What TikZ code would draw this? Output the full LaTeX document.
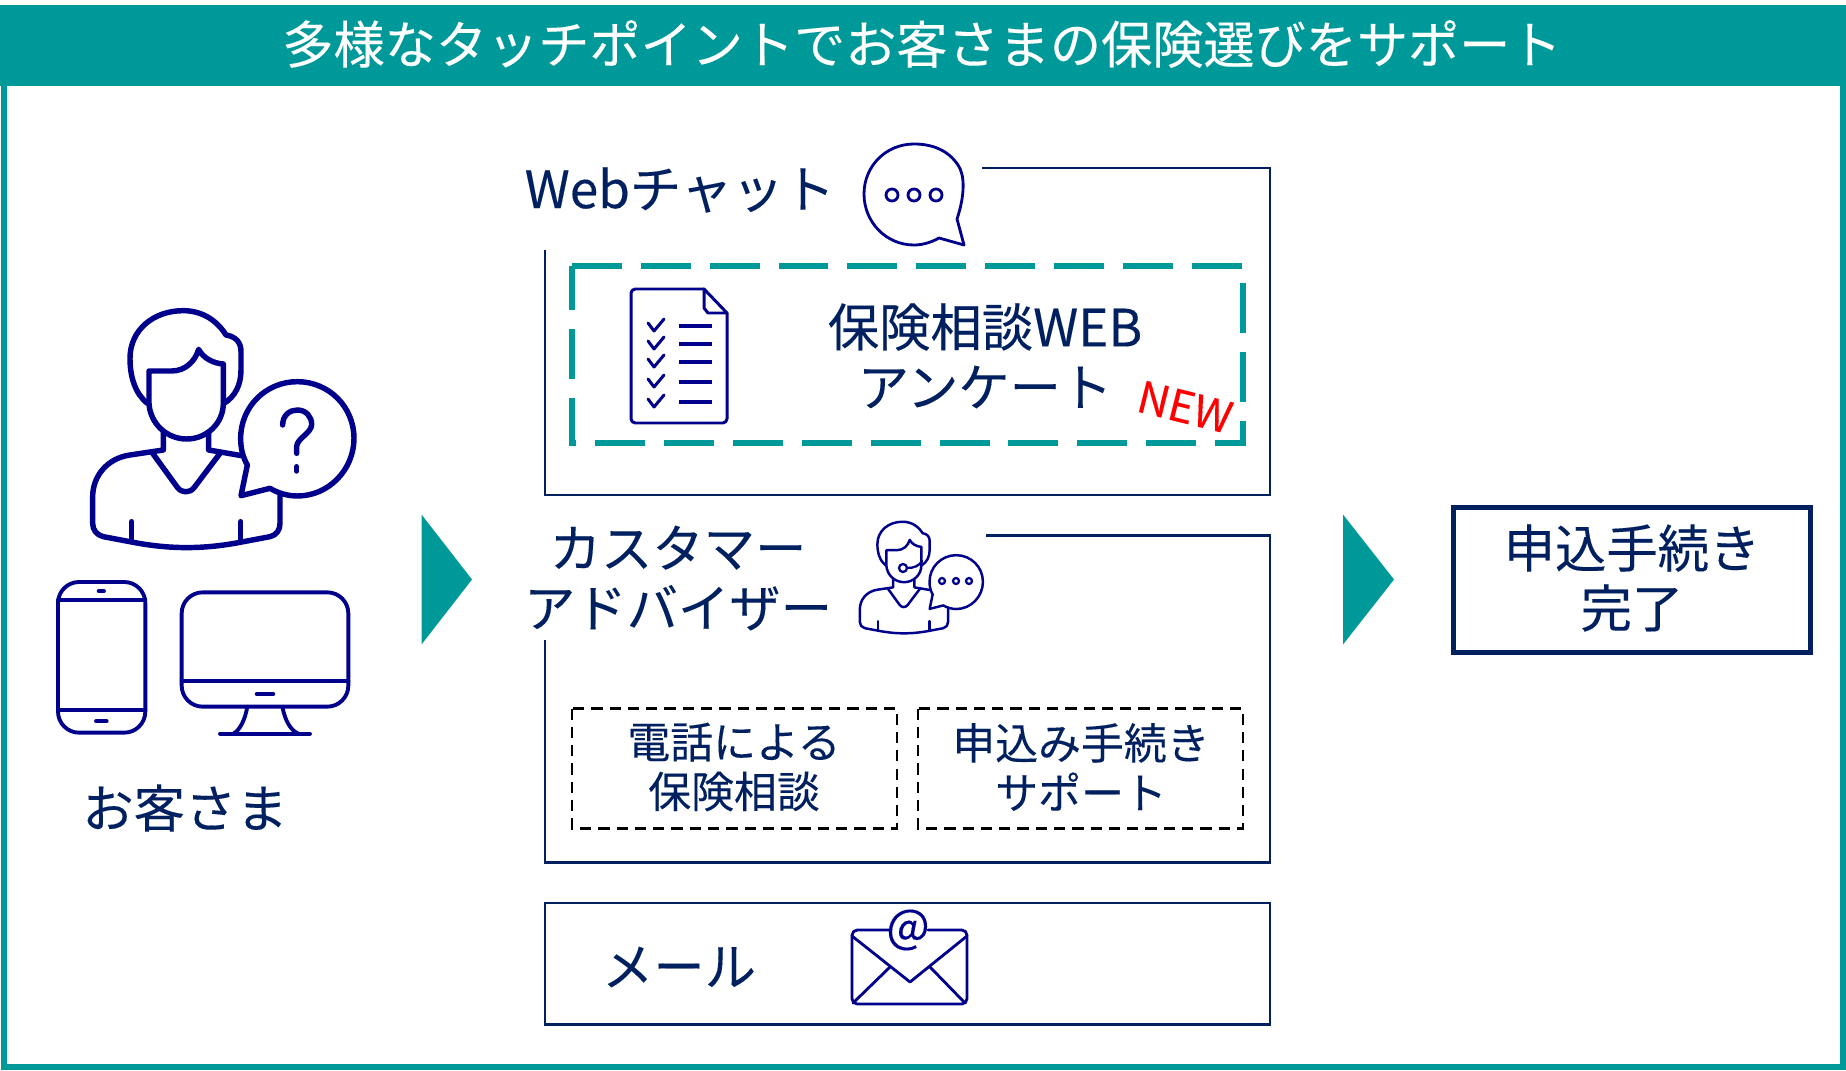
\documentclass[tikz,border=0pt]{standalone}
\usepackage{fontspec}
\setmainfont{Noto Sans CJK JP}[FakeBold=0.2]
\usepackage{tikz}
\definecolor{tealc}{HTML}{009999}
\definecolor{navyc}{HTML}{002060}
\definecolor{iconc}{HTML}{00008C}
\tikzset{
  boxline/.style = {navyc, line width=.75pt},
  bigtext/.style = {navyc, align=center, inner sep=0pt, font=\fontsize{14.6pt}{17pt}\selectfont},
  smalltext/.style = {navyc, align=center, inner sep=0pt, font=\fontsize{12.2pt}{14.1pt}\selectfont},
  icon/.style = {iconc, line cap=round, line join=round},
  blackdash/.style = {black, line width=.6pt, dash pattern=on 3.2pt off 2pt},
  tealdash/.style = {tealc, line width=1.6pt, dash pattern=on 14.2pt off 5.376pt}
}
% person with a speech bubble, in units of 1/3 px
\newcommand{\personicon}{
\draw (322,340) .. controls (285,310) and (270,260) .. (270,205)
      .. controls (270,120) and (340,62) .. (430,62)
      .. controls (485,62) and (530,90) .. (558,135)
      .. controls (590,140) and (603,160) .. (603,185) -- (603,240)
      .. controls (603,285) and (585,320) .. (552,340);
\draw (327,243) -- (327,340) .. controls (330,400) and (380,447) .. (440,447)
      .. controls (500,447) and (550,400) .. (550,340) -- (550,222)
      .. controls (520,220) and (490,205) .. (476,178)
      .. controls (465,215) and (435,243) .. (395,243) -- cycle;
\draw (370,428) -- (370,480) -- (270,495) .. controls (200,505) and (158,560) .. (158,620)
      -- (158,700) .. controls (158,720) and (170,735) .. (190,740) -- (280,757)
      .. controls (390,778) and (490,778) .. (600,757) -- (690,740)
      .. controls (710,735) and (720,720) .. (720,700) -- (720,612);
\draw (506,428) -- (506,480) -- (605,497);
\draw (338,490) -- (412,592) .. controls (425,610) and (450,610) .. (463,592) -- (540,490);
\draw (275,695) -- (275,750);
\draw (602,695) -- (602,750);
\draw (622,525) .. controls (608,500) and (602,475) .. (602,445)
      .. controls (602,350) and (678,275) .. (772,275)
      .. controls (866,275) and (942,350) .. (942,445)
      .. controls (942,539) and (866,618) .. (772,618)
      .. controls (745,618) and (715,610) .. (690,595) -- (603,617) -- cycle;
}

\begin{document}
\begin{tikzpicture}[x=.01cm, y=-.01cm]
\useasboundingbox (0,0) rectangle (1846,1070);

% frame and header
\draw[tealc, line width=1.7pt] (4,86) -- (4,1067) -- (1843,1067) -- (1843,86);
\fill[tealc] (0,5) rectangle (1846,86);
\node[white, inner sep=0pt, font=\fontsize{14.55pt}{17pt}\selectfont] (title) at (922,44)
  {多様なタッチポイントでお客さまの保険選びをサポート};

% customer
\begin{scope}[shift={(40,290)}, scale=1/3, icon, line width=1.55pt]
\personicon
\draw (728,405) .. controls (728,375) and (750,360) .. (772,360)
      .. controls (798,360) and (815,380) .. (815,403)
      .. controls (815,430) and (770,445) .. (770,470) -- (770,490);
\draw (770,530) -- (770,543);
\end{scope}
\begin{scope}[shift={(40,290)}, scale=1/3, icon, line width=1.1pt]
\draw[rounded corners=6pt] (54,876) rectangle (316,1328);
\draw (54,930) -- (316,930);
\draw (54,1260) -- (316,1260);
\draw (176,903) -- (192,903);
\draw (168,1294) -- (200,1294);
\draw[rounded corners=6pt] (425,907) rectangle (925,1250);
\draw (425,1172) -- (925,1172);
\draw (650,1212) -- (700,1212);
\draw (622,1250) .. controls (615,1290) and (600,1320) .. (580,1331);
\draw (727,1250) .. controls (735,1290) and (750,1320) .. (775,1331);
\draw (540,1331) -- (810,1331);
\end{scope}
\node[bigtext] (customer) at (185,808) {お客さま};

% arrows
\fill[tealc] (421.5,514.5) -- (472,579.5) -- (421.5,644.5) -- cycle;
\fill[tealc] (1343,514.5) -- (1394,579.5) -- (1343,644.5) -- cycle;

% web chat
\draw[boxline] (982,168) -- (1270,168) -- (1270,495) -- (545,495) -- (545,250);
\node[bigtext, anchor=west] (webchat) at (524,190) {Webチャット};
\draw[icon, line width=.8pt] (957,219) .. controls (965,195) and (965,175) .. (958,165)
      .. controls (948,150) and (932,144) .. (914,144)
      .. controls (886,144) and (864,166) .. (864,194)
      .. controls (864,222) and (886,245) .. (914,245)
      .. controls (923,245) and (932,242) .. (939,238) -- (964,245) -- cycle;
\foreach \dotx in {892,914,936}
  \draw[icon, line width=.8pt] (\dotx,195) circle (6);
\draw[tealdash] (572,266) -- (1243,266) -- (1243,443) -- (572,443) -- cycle;
\draw[icon, line width=.85pt, rounded corners=1.2pt] (704,289) -- (631,289) -- (631,423)
      -- (727,423) -- (727,313);
\draw[icon, line width=.85pt] (704,289) -- (727,313) -- (708,313) -- (704,308) -- cycle;
\foreach \rowy in {326,344,362,382,402} {
  \draw[icon, line width=.85pt] (648,\rowy-3) -- (654,\rowy+5) -- (664,\rowy-7);
  \draw[iconc, line width=.95pt] (679,\rowy) -- (712,\rowy);
}
\node[bigtext] (survey) at (985,327) {保険相談WEB};
\node[bigtext] (surveyb) at (985,387) {アンケート};
\node[red, inner sep=0pt, rotate=-14, font=\fontsize{12.4pt}{14pt}\selectfont] (newmark) at (1185,407) {NEW};

% customer advisor
\draw[boxline] (986,535.5) -- (1270,535.5) -- (1270,862.5) -- (545,862.5) -- (545,640);
\node[bigtext] (advisor) at (678,578) {カスタマー\\アドバイザー};
\begin{scope}[shift={(835,512)}, scale=.157, icon, line width=.7pt]
\personicon
\end{scope}
\foreach \dotx in {942,956,969}
  \draw[icon, line width=.65pt] (\dotx,581) circle (3);
\draw[icon, line width=.65pt] (903,568) circle (4);
\draw[icon, line width=.65pt] (907,568) .. controls (914,568) and (919,566) .. (922,561);
\draw[blackdash] (572,708.5) rectangle (897,828.5);
\draw[blackdash] (918,708.5) rectangle (1243,828.5);
\node[smalltext] (phone) at (734,767) {電話による\\保険相談};
\node[smalltext] (support) at (1081,767) {申込み手続き\\サポート};

% mail
\draw[boxline] (545,903) rectangle (1270,1024.5);
\node[bigtext] (mail) at (679,967) {メール};
\draw[icon, line width=.8pt, rounded corners=1.5pt] (889,930) -- (852,930) -- (852,1004)
      -- (967,1004) -- (967,930) -- (928,930);
\draw[icon, line width=.8pt] (852,936) -- (910,982) -- (967,936);
\draw[icon, line width=.8pt] (890,967) -- (853,1003);
\draw[icon, line width=.8pt] (930,967) -- (965,1003);
\node[iconc, inner sep=0pt, font=\fontsize{13pt}{14pt}\selectfont] (atmark) at (908,930) {@};

% done
\draw[navyc, line width=1.45pt] (1453.5,507.5) rectangle (1810.5,652.5);
\node[bigtext] (done) at (1632,578) {申込手続き\\完了};
\end{tikzpicture}
\end{document}
